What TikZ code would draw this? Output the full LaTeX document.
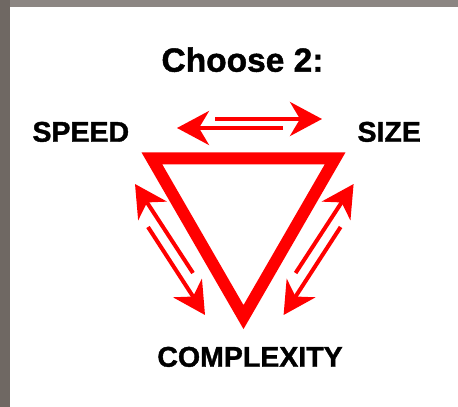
\documentclass[tikz,border=0pt]{standalone}
\usepackage{fontspec}
\setmainfont{Liberation Sans}[BoldFeatures={FakeBold=1.3}]
\usetikzlibrary{arrows.meta}
\definecolor{framegrey}{RGB}{140,134,131}
\definecolor{edgegrey}{RGB}{111,104,99}
\tikzstyle{heading} = [anchor=base, inner sep=0pt, text=black, font=\fontsize{33.5}{36}\selectfont\bfseries]
\tikzstyle{corner} = [anchor=base, inner sep=0pt, text=black, font=\fontsize{28.5}{30}\selectfont\bfseries]
\tikzstyle{tri} = [draw=red, line width=12pt, line join=miter, miter limit=10]
\tikzset{
  twoway/.style={
    draw=red,
    line width=4pt,
    -{Stealth[length=32pt, width=34pt, inset=10pt]} % wide swept-back head
  }
}

\begin{document}
\begin{tikzpicture}[x=1pt, y=-1pt]
    \useasboundingbox (0,0) rectangle (458,407);
    \fill[framegrey] (0,0) rectangle (458,7);
    \fill[edgegrey] (0,0) rectangle (10,407);
    \node (title)[heading] at (242.5,71.7) {Choose 2:};
    \node (speed)[corner] at (80.8,141.7) {SPEED};
    \node (size)[corner] at (389.2,141.7) {SIZE};
    \node (cplx)[corner] at (250,366.7) {COMPLEXITY};
    % the triangle
    \coordinate (tl) at (151.9,158.4);
    \coordinate (tr) at (335.1,158.4);
    \coordinate (bt) at (243.5,317.1);
    \draw[tri] (tl) -- (tr) -- (bt) -- cycle;
    % arrow pairs
    \coordinate (topA) at (215,119);
    \coordinate (topB) at (322,119);
    \coordinate (topC) at (283,128);
    \coordinate (topD) at (177,128);
    \coordinate (lftA) at (193,273);
    \coordinate (lftB) at (135,184);
    \coordinate (lftC) at (148,227);
    \coordinate (lftD) at (205,315);
    \coordinate (rgtA) at (295.6,273);
    \coordinate (rgtB) at (353.6,184);
    \coordinate (rgtC) at (340.6,227);
    \coordinate (rgtD) at (283.6,315);
    \draw[twoway] (topA) -- (topB);
    \draw[twoway] (topC) -- (topD);
    \draw[twoway] (lftA) -- (lftB);
    \draw[twoway] (lftC) -- (lftD);
    \draw[twoway] (rgtA) -- (rgtB);
    \draw[twoway] (rgtC) -- (rgtD);
\end{tikzpicture}
\end{document}
